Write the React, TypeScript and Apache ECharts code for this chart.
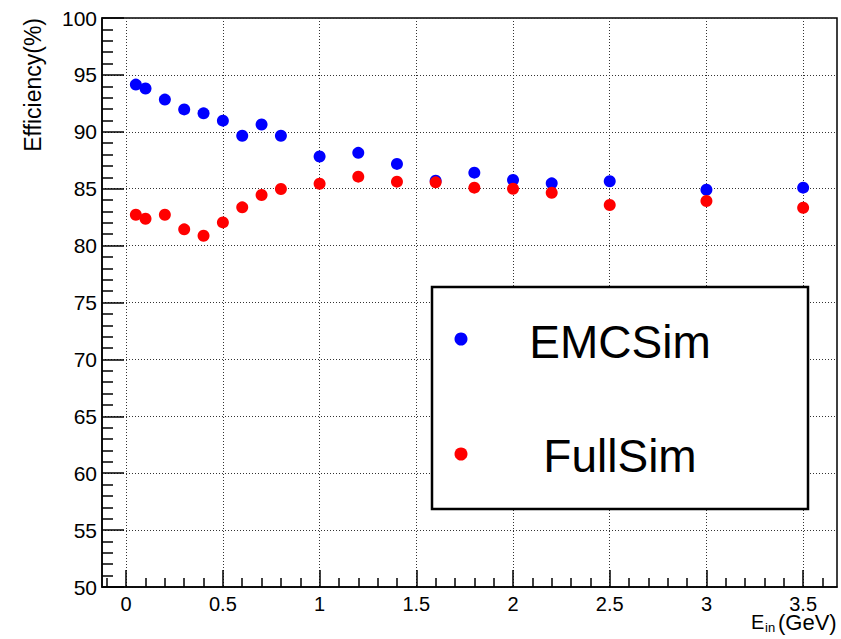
import React, { useEffect, useRef } from 'react';
import * as echarts from 'echarts';

const energies = [0.05, 0.1, 0.2, 0.3, 0.4, 0.5, 0.6, 0.7, 0.8, 1.0, 1.2, 1.4, 1.6, 1.8, 2.0, 2.2, 2.5, 3.0, 3.5];
const emcSim = [94.15, 93.8, 92.83, 91.97, 91.62, 90.98, 89.65, 90.64, 89.65, 87.83, 88.15, 87.18, 85.7, 86.41, 85.77, 85.47, 85.65, 84.91, 85.09];
const fullSim = [82.71, 82.36, 82.71, 81.43, 80.86, 82.04, 83.36, 84.45, 84.97, 85.44, 86.06, 85.62, 85.56, 85.09, 85.0, 84.65, 83.57, 83.92, 83.33];
const seriesNames = ['EMCSim', 'FullSim'];
const seriesColors = ['#0000ff', '#ff0000'];
const xMajorTicks = [0, 0.5, 1, 1.5, 2, 2.5, 3, 3.5];
const xMinorTicks = [-0.1, 0.1, 0.2, 0.3, 0.4, 0.6, 0.7, 0.8, 0.9, 1.1, 1.2, 1.3, 1.4, 1.6, 1.7, 1.8, 1.9, 2.1, 2.2, 2.3, 2.4, 2.6, 2.7, 2.8, 2.9, 3.1, 3.2, 3.3, 3.4, 3.6];
const xMin = -0.125;
const xMax = 3.675;
const yMin = 50;
const yMax = 100;

const FONT = "'Liberation Sans', Arial, Helvetica, sans-serif";

export default function App() {
  const ref = useRef<HTMLDivElement>(null);
  useEffect(() => {
    if (!ref.current) return;
    const chart = echarts.init(ref.current, undefined, { renderer: 'svg' });
    const gridRect = { left: 102, top: 18, width: 735, height: 569 };
    const black = { color: '#000', width: 1.5 };
    const gridLine = { type: [1, 2], color: '#333', width: 1 };
    const option: any = {
      animation: false,
      backgroundColor: '#fff',
      grid: [
        { ...gridRect, show: true, borderColor: '#000', borderWidth: 1.5, backgroundColor: 'transparent', containLabel: false },
        { ...gridRect, show: false, containLabel: false },
      ],
      xAxis: [
        {
          type: 'value',
          gridIndex: 0,
          min: xMin,
          max: xMax,
          splitNumber: 8,
          axisLine: { show: true, onZero: false, lineStyle: black },
          axisTick: { show: true, inside: true, length: 17, lineStyle: black, customValues: xMajorTicks },
          axisLabel: { show: true, fontSize: 20, lineHeight: 14, color: '#000', fontFamily: FONT, margin: 10, customValues: xMajorTicks },
          splitLine: { show: true, lineStyle: gridLine },
        },
        {
          type: 'value',
          gridIndex: 1,
          min: xMin,
          max: xMax,
          axisLine: { show: false, onZero: false },
          axisTick: { show: true, inside: true, length: 9, lineStyle: black, customValues: xMinorTicks },
          axisLabel: { show: false },
          splitLine: { show: false },
        },
      ],
      yAxis: [
        {
          type: 'value',
          gridIndex: 0,
          min: yMin,
          max: yMax,
          interval: 5,
          axisLine: { show: true, onZero: false, lineStyle: black },
          axisTick: { show: true, inside: true, length: 22, lineStyle: black },
          minorTick: { show: true, splitNumber: 5, length: 11, lineStyle: black },
          axisLabel: { show: true, fontSize: 21, color: '#000', fontFamily: FONT, margin: 5 },
          splitLine: { show: true, lineStyle: gridLine },
        },
        { type: 'value', gridIndex: 1, min: yMin, max: yMax, show: false },
      ],
      series: [
        {
          name: seriesNames[0],
          type: 'scatter',
          xAxisIndex: 0,
          yAxisIndex: 0,
          symbol: 'circle',
          symbolSize: 12,
          itemStyle: { color: seriesColors[0], opacity: 1 },
          data: energies.map((e, i) => [e, emcSim[i]]),
        },
        {
          name: seriesNames[1],
          type: 'scatter',
          xAxisIndex: 0,
          yAxisIndex: 0,
          symbol: 'circle',
          symbolSize: 12,
          itemStyle: { color: seriesColors[1], opacity: 1 },
          data: energies.map((e, i) => [e, fullSim[i]]),
        },
      ],
      graphic: [
        {
          type: 'text',
          x: 33,
          y: 18,
          rotation: Math.PI / 2,
          style: { text: 'Efficiency(%)', fontSize: 23, fontFamily: FONT, fill: '#000', align: 'right', verticalAlign: 'middle' },
        },
        {
          type: 'text',
          x: 751,
          y: 622,
          style: { text: 'E', fontSize: 20, lineHeight: 16, fontFamily: FONT, fill: '#000', align: 'left', verticalAlign: 'middle' },
        },
        {
          type: 'text',
          x: 765,
          y: 627.5,
          style: { text: 'in', fontSize: 13, lineHeight: 11, fontFamily: FONT, fill: '#000', align: 'left', verticalAlign: 'middle' },
        },
        {
          type: 'text',
          x: 778,
          y: 622,
          style: { text: '(GeV)', fontSize: 22, lineHeight: 16, fontFamily: FONT, fill: '#000', align: 'left', verticalAlign: 'middle' },
        },
        {
          type: 'rect',
          shape: { x: 432, y: 287, width: 376, height: 222 },
          style: { fill: '#fff', stroke: '#000', lineWidth: 2.5 },
          z: 10,
        },
        {
          type: 'circle',
          shape: { cx: 461, cy: 339, r: 6.5 },
          style: { fill: seriesColors[0] },
          z: 11,
        },
        {
          type: 'circle',
          shape: { cx: 461, cy: 454, r: 6.5 },
          style: { fill: seriesColors[1] },
          z: 11,
        },
        {
          type: 'text',
          x: 620,
          y: 342,
          style: { text: seriesNames[0], fontSize: 46, fontFamily: FONT, fill: '#000', align: 'center', verticalAlign: 'middle' },
          z: 11,
        },
        {
          type: 'text',
          x: 620,
          y: 456,
          style: { text: seriesNames[1], fontSize: 46, fontFamily: FONT, fill: '#000', align: 'center', verticalAlign: 'middle' },
          z: 11,
        },
      ],
    };
    chart.setOption(option);
    return () => chart.dispose();
  }, []);
  return <div ref={ref} style={{ position: 'fixed', left: 0, top: 0, width: 841, height: 639 }} />;
}
